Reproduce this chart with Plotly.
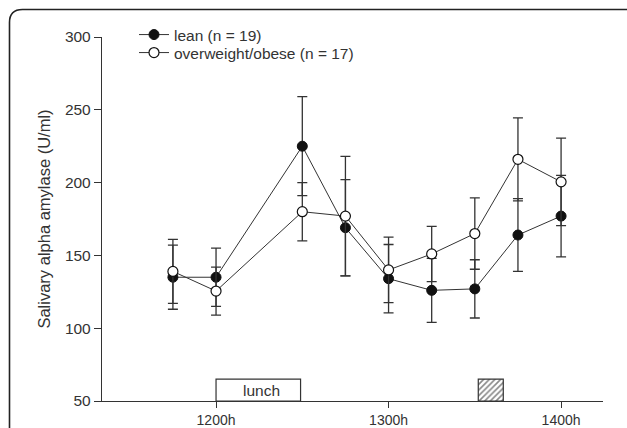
import plotly.graph_objects as go

# ---- data ----
times = [11.75, 12.0, 12.5, 12.75, 13.0, 13.25, 13.5, 13.75, 14.0]
lean_mean = [135, 135, 225, 169, 134, 126, 127, 164, 177]
lean_err = [22, 20, 34, 33, 23.5, 22, 20, 25, 28]
ow_mean = [139, 125.5, 180, 177, 140, 151, 165, 216, 200.5]
ow_err = [22, 16.5, 20, 41, 22.5, 19, 24.5, 28.5, 30]

tick_vals = [12.0, 13.0, 14.0]
tick_text = ["1200h", "1300h", "1400h"]
y_ticks = [50, 100, 150, 200, 250, 300]

meal_start = [12.0, 13.52]
meal_end = [12.49, 13.665]
meal_patterns = ["", "/"]
meal_labels = ["lunch", ""]
meal_base = 50
meal_height = 15

W, H = 627, 428
FONT = "Liberation Sans, Arial, sans-serif"
INK = "#333333"

fig = go.Figure()

# meal boxes
fig.add_trace(go.Bar(
    x=[(s + e) / 2 for s, e in zip(meal_start, meal_end)],
    y=[meal_height] * len(meal_start),
    base=[meal_base] * len(meal_start),
    width=[e - s for s, e in zip(meal_start, meal_end)],
    marker=dict(color="white", line=dict(color=INK, width=1.2),
                pattern=dict(shape=meal_patterns, fgcolor="#111111", bgcolor="white",
                             size=4, solidity=0.4)),
    showlegend=False, hoverinfo="skip",
))
for s, e, lab in zip(meal_start, meal_end, meal_labels):
    if lab:
        fig.add_annotation(x=(s + e) / 2 + 0.02, y=meal_base + meal_height / 2,
                           text=lab, showarrow=False, xref="x", yref="y",
                           font=dict(family=FONT, size=15.5, color=INK))

fig.add_trace(go.Scatter(
    x=times, y=lean_mean, mode="lines+markers", name="lean (n = 19)",
    legend="legend",
    line=dict(color=INK, width=1),
    marker=dict(symbol="circle", size=10, color="#111111", line=dict(color="#111111", width=1)),
    error_y=dict(type="data", array=lean_err, visible=True, color=INK, thickness=1.3, width=5),
))
fig.add_trace(go.Scatter(
    x=times, y=ow_mean, mode="lines+markers", name="overweight/obese (n = 17)",
    legend="legend2",
    line=dict(color=INK, width=1),
    marker=dict(symbol="circle", size=10, color="white", line=dict(color="#111111", width=1.2)),
    error_y=dict(type="data", array=ow_err, visible=True, color=INK, thickness=1.3, width=5),
))

x0, x1 = 102, 603
y_top, y_bot = 37, 401

def px(x):
    return x / W
def py(y):
    return 1 - y / H

# frame (rounded top-left corner)
r = 13
path = (f"M {px(9.5)} {py(H + 5)} L {px(9.5)} {py(9.5 + r)} "
        f"Q {px(9.5)} {py(9.5)} {px(9.5 + r)} {py(9.5)} L {px(W + 5)} {py(9.5)}")
fig.add_shape(type="path", path=path, xref="paper", yref="paper",
              line=dict(color="#222222", width=1.6))

leg_common = dict(xanchor="left", yanchor="middle",
                  font=dict(family=FONT, size=15.5, color=INK),
                  bgcolor="rgba(0,0,0,0)", borderwidth=0, itemwidth=30)

fig.update_layout(
    width=W, height=H,
    margin=dict(l=0, r=0, t=0, b=0),
    paper_bgcolor="white", plot_bgcolor="white",
    font=dict(family=FONT, color=INK),
    showlegend=True,
    legend=dict(x=px(134), y=py(35), **leg_common),
    legend2=dict(x=px(134), y=py(53), **leg_common),
    xaxis=dict(domain=[px(x0), px(x1)], range=[11.339, 14.243],
               tickvals=tick_vals, ticktext=tick_text, automargin=False,
               showline=True, linecolor=INK, linewidth=1.3,
               ticks="outside", ticklen=6, tickcolor=INK, tickwidth=1.3,
               ticklabelstandoff=0,
               showgrid=False, zeroline=False,
               tickfont=dict(family=FONT, size=14, color=INK)),
    yaxis=dict(domain=[py(y_bot), py(y_top)], range=[50, 300],
               tickvals=y_ticks, automargin=False,
               showline=True, linecolor=INK, linewidth=1.3,
               ticks="outside", ticklen=7, tickcolor=INK, tickwidth=1.3,
               showgrid=False, zeroline=False,
               tickfont=dict(family=FONT, size=15.5, color=INK),
               title=dict(text="Salivary alpha amylase (U/ml)", standoff=10,
                          font=dict(family=FONT, size=16.5, color=INK))),
)

fig.write_html("out.html")
